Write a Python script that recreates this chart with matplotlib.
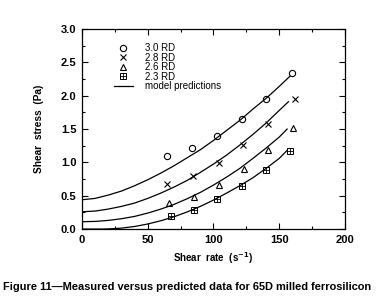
import matplotlib
matplotlib.use("Agg")
import matplotlib.pyplot as plt
from matplotlib.ticker import MultipleLocator

plt.rcParams['font.family'] = ['Liberation Sans', 'DejaVu Sans']

# measured data (shear rate 1/s, shear stress Pa)
rd30_x = [64.5, 84, 103, 121.5, 140, 159.5]
rd30_y = [1.10, 1.22, 1.39, 1.645, 1.95, 2.34]
rd28_x = [64.5, 84.7, 104.2, 122.7, 141.7, 161.7]
rd28_y = [0.68, 0.80, 0.985, 1.255, 1.575, 1.945]
rd26_x = [66, 85, 104, 123, 141.7, 160.7]
rd26_y = [0.385, 0.485, 0.665, 0.895, 1.18, 1.52]
rd23_x = [67.4, 85, 103, 121.5, 140, 158.5]
rd23_y = [0.20, 0.28, 0.45, 0.65, 0.885, 1.17]

# model prediction curves
m30_x = [0, 10, 20, 30, 40, 50, 60, 70, 80, 90, 100, 110, 120, 130, 140, 150, 158]
m30_y = [0.44, 0.46, 0.51, 0.57, 0.65, 0.74, 0.84, 0.95, 1.07, 1.19, 1.33, 1.48, 1.63, 1.80, 1.96, 2.14, 2.29]
m28_x = [0, 10, 20, 30, 40, 50, 60, 70, 80, 90, 100, 110, 120, 130, 140, 150, 157]
m28_y = [0.26, 0.27, 0.30, 0.34, 0.39, 0.46, 0.54, 0.63, 0.73, 0.85, 0.975, 1.11, 1.26, 1.42, 1.59, 1.78, 1.91]
m26_x = [0, 10, 20, 30, 40, 50, 60, 70, 80, 90, 100, 110, 120, 130, 140, 150, 156]
m26_y = [0.11, 0.115, 0.13, 0.155, 0.19, 0.24, 0.30, 0.37, 0.455, 0.55, 0.66, 0.78, 0.91, 1.06, 1.215, 1.38, 1.50]
m23_x = [0, 15, 20, 30, 40, 50, 60, 70, 80, 90, 100, 110, 120, 130, 140, 150, 156]
m23_y = [0, 0, 0.002, 0.014, 0.039, 0.076, 0.125, 0.185, 0.257, 0.34, 0.435, 0.54, 0.65, 0.77, 0.91, 1.06, 1.18]

fig = plt.figure(figsize=(3.85, 3.03), dpi=100)
ax = fig.add_axes([0.213, 0.244, 0.683, 0.66])

ms = 4.5
h30, = ax.plot(rd30_x, rd30_y, 'o', mfc='none', mec='black', mew=0.8, ms=ms)
h28, = ax.plot(rd28_x, rd28_y, 'x', color='black', mew=0.8, ms=ms)
h26, = ax.plot(rd26_x, rd26_y, '^', mfc='none', mec='black', mew=0.8, ms=ms)
h23a, = ax.plot(rd23_x, rd23_y, 's', mfc='none', mec='black', mew=0.7, ms=ms)
h23b, = ax.plot(rd23_x, rd23_y, '+', color='black', mew=0.6, ms=ms - 0.5)
hm, = ax.plot(m30_x, m30_y, '-', color='black', lw=0.9)
for mx, my in [(m28_x, m28_y), (m26_x, m26_y), (m23_x, m23_y)]:
    ax.plot(mx, my, '-', color='black', lw=0.9)

ax.set_xlim(0, 200)
ax.set_ylim(0, 3.0)
ax.xaxis.set_major_locator(MultipleLocator(50))
ax.xaxis.set_minor_locator(MultipleLocator(25))
ax.yaxis.set_major_locator(MultipleLocator(0.5))
ax.yaxis.set_minor_locator(MultipleLocator(0.25))
ax.yaxis.set_major_formatter(plt.FormatStrFormatter('%.1f'))
ax.tick_params(which='both', direction='in', top=True, right=True, width=0.8)
ax.tick_params(which='major', length=4, labelsize=8, pad=4)
ax.tick_params(which='minor', length=2)
for lab in ax.get_xticklabels() + ax.get_yticklabels():
    lab.set_fontweight('bold')
for s in ax.spines.values():
    s.set_linewidth(0.9)

ax.set_xlabel('Shear  rate  (s$^{\\mathbf{-1}}$)', fontsize=7, fontweight='bold', labelpad=4)
ax.set_ylabel('Shear  stress  (Pa)', fontsize=7.3, fontweight='bold', labelpad=12)

ax.legend([h30, h28, h26, (h23a, h23b), hm],
          ['3.0 RD', '2.8 RD', '2.6 RD', '2.3 RD', 'model predictions'],
          loc='upper left', bbox_to_anchor=(0.12, 0.93), frameon=False, fontsize=7,
          handlelength=2.0, handletextpad=1.2, labelspacing=-0.05, borderpad=0,
          borderaxespad=0)

fig.text(0.008, 0.043, 'Figure 11\u2014Measured versus predicted data for 65D milled ferrosilicon',
         fontsize=7.9, fontweight='bold')

fig.savefig('out.png', dpi=100)
